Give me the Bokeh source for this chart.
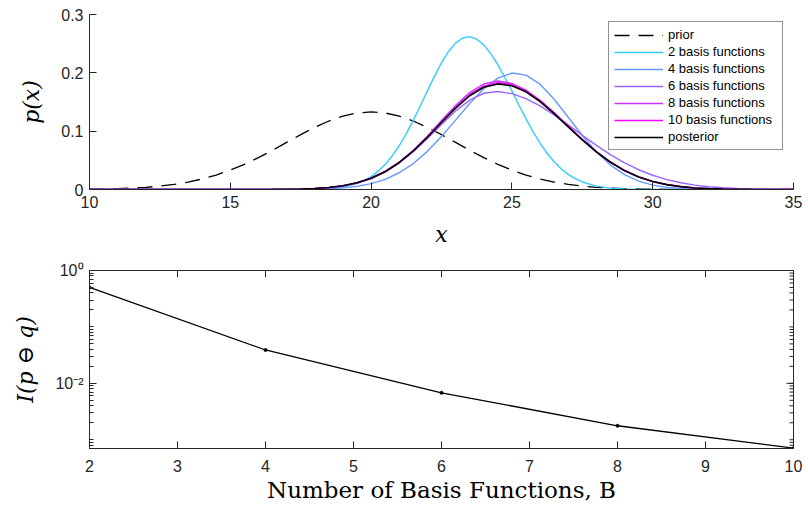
import math
import numpy as np
from bokeh.plotting import figure
from bokeh.layouts import column
from bokeh.models import Legend, LegendItem, FixedTicker
from bokeh.embed import file_html
from bokeh.resources import INLINE

# ---------------- data ----------------
x_grid = list(np.arange(10.0, 35.001, 0.5))
# the narrow 2-basis curve is read on a finer step around its peak
x_b2 = (list(np.arange(10.0, 19.501, 0.5)) + list(np.arange(19.75, 27.501, 0.25))
        + list(np.arange(28.0, 35.001, 0.5)))

prior = [0.0005, 0.0009, 0.0015, 0.0024, 0.0038, 0.0058, 0.0087, 0.0127, 0.0180, 0.0248,
         0.0332, 0.0432, 0.0547, 0.0673, 0.0807, 0.0940, 0.1065, 0.1174, 0.1258, 0.1312,
         0.1330, 0.1312, 0.1258, 0.1174, 0.1065, 0.0940, 0.0807, 0.0673, 0.0547, 0.0432,
         0.0332, 0.0248, 0.0180, 0.0127, 0.0087, 0.0058, 0.0038, 0.0024, 0.0015, 0.0009,
         0.0005, 0.0003, 0.0002, 0.0001, 0, 0, 0, 0, 0, 0, 0]

basis2 = ([0] * 14 + [0.0001, 0.0002, 0.0005, 0.0016, 0.0042, 0.0102]
          + [0.0152, 0.0220, 0.0311, 0.0428, 0.0575, 0.0750, 0.0957, 0.119, 0.1436, 0.169,
             0.194, 0.217, 0.2366, 0.251, 0.2598, 0.262, 0.2577, 0.248, 0.2329, 0.214,
             0.192, 0.169, 0.1445, 0.121, 0.0992, 0.0794, 0.0621, 0.0475, 0.0355, 0.0259,
             0.0185, 0.0129]
          + [0.0058, 0.0024, 0.0009, 0.0003, 0.0001] + [0] * 10)

basis4 = [0] * 14 + [0.0001, 0.0003, 0.0006, 0.0013, 0.0028, 0.0054, 0.0100, 0.0174, 0.0287, 0.0445,
                     0.0654, 0.0908, 0.119, 0.1474, 0.1726, 0.191, 0.1996, 0.196, 0.1805, 0.1548,
                     0.1239, 0.0925, 0.0644, 0.0419, 0.0254, 0.0144, 0.0076, 0.0037, 0.0017, 0.0007,
                     0.0003, 0.0001] + [0] * 5

basis6 = [0] * 13 + [0.0001, 0.0003, 0.0008, 0.0016, 0.0032, 0.0062, 0.0110, 0.0187, 0.0299, 0.0453,
                     0.0648, 0.0874, 0.1116, 0.1345, 0.1532, 0.165, 0.168, 0.1643, 0.1559, 0.1435,
                     0.1280, 0.1108, 0.0929, 0.0756, 0.0597, 0.0457, 0.0339, 0.0244, 0.0170, 0.0115,
                     0.0075, 0.0048, 0.0030, 0.0018, 0.0010, 0.0006, 0.0003, 0.0002]

basis8 = [0] * 13 + [0.0001, 0.0003, 0.0007, 0.0015, 0.0031, 0.0060, 0.0109, 0.0187, 0.0303, 0.0464,
                     0.0670, 0.0915, 0.1182, 0.1441, 0.1661, 0.1808, 0.186, 0.182, 0.1705, 0.1530,
                     0.1314, 0.1081, 0.0852, 0.0642, 0.0464, 0.0321, 0.0212, 0.0135, 0.0082, 0.0048,
                     0.0026, 0.0014, 0.0007, 0.0004, 0.0002, 0.0001, 0, 0]

basis10 = [0] * 12 + [0.0001, 0.0002, 0.0004, 0.0008, 0.0017, 0.0035, 0.0066, 0.0116, 0.0195, 0.0310,
                      0.0468, 0.0669, 0.0906, 0.1162, 0.1410, 0.1625, 0.1771, 0.183, 0.1799, 0.1692,
                      0.1525, 0.1315, 0.1087, 0.0860, 0.0651, 0.0472, 0.0328, 0.0218, 0.0139, 0.0085,
                      0.0050, 0.0027, 0.0015, 0.0008, 0.0004, 0.0002, 0.0001, 0, 0]

posterior = [0] * 12 + [0.0001, 0.0002, 0.0004, 0.0008, 0.0017, 0.0035, 0.0065, 0.0115, 0.0193, 0.0307,
                        0.0463, 0.0662, 0.0896, 0.1149, 0.1395, 0.1607, 0.1752, 0.181, 0.1779, 0.1674,
                        0.1508, 0.1301, 0.1075, 0.0851, 0.0644, 0.0467, 0.0324, 0.0216, 0.0137, 0.0084,
                        0.0049, 0.0027, 0.0015, 0.0008, 0.0004, 0.0002, 0.0001, 0, 0]

series_labels = ["prior", "2 basis functions", "4 basis functions", "6 basis functions",
                 "8 basis functions", "10 basis functions", "posterior"]
series_colors = ["black", "#33CCFF", "#6699FF", "#9966FF", "#CC33FF", "#FF00FF", "black"]

top_x_ticks = [10, 15, 20, 25, 30, 35]
top_y_ticks = [0, 0.1, 0.2, 0.3]
top_y_labels = ["0", "0.1", "0.2", "0.3"]

num_basis = [2, 4, 6, 8, 10]
info_loss = [0.50, 0.039, 0.0068, 0.00177, 0.00071]
bot_x_ticks = [2, 3, 4, 5, 6, 7, 8, 9, 10]
bot_y_ticks = [0.01, 1]
bot_y_labels = ["10\u207b\u00b2", "10\u2070"]

# ---------------- styling helpers ----------------
AX = "#262626"
TICK_FONT = "Liberation Sans"
SERIF = "DejaVu Serif"


def style_axis(ax):
    ax.axis_line_color = AX
    ax.axis_line_width = 1
    ax.major_tick_line_color = AX
    ax.minor_tick_line_color = AX
    ax.major_tick_in = 7
    ax.major_tick_out = 0
    ax.minor_tick_in = 4
    ax.minor_tick_out = 0
    ax.major_label_text_font = TICK_FONT
    ax.major_label_text_font_size = "16px"
    ax.major_label_text_color = AX
    ax.axis_label_text_font = SERIF
    ax.axis_label_text_font_size = "22px"
    ax.axis_label_text_color = "black"


# ---------------- top panel ----------------
p1 = figure(width=808, height=255, x_range=(10, 35), y_range=(0, 0.3),
            output_backend="svg", toolbar_location=None,
            min_border_left=88, min_border_right=15, min_border_top=14, min_border_bottom=66)
p1.outline_line_color = None
p1.grid.visible = False

all_series = [prior, basis2, basis4, basis6, basis8, basis10, posterior]
all_x = [x_grid, x_b2, x_grid, x_grid, x_grid, x_grid, x_grid]
renderers = []
for i, (xs, ys, col) in enumerate(zip(all_x, all_series, series_colors)):
    if i == 0:
        r = p1.line(xs, ys, line_color=col, line_width=1.3, line_dash="15 9")
    elif i == len(all_series) - 1:
        r = p1.line(xs, ys, line_color=col, line_width=1.6)
    else:
        r = p1.line(xs, ys, line_color=col, line_width=1.4)
    renderers.append(r)

legend = Legend(items=[LegendItem(label=lab, renderers=[r]) for lab, r in zip(series_labels, renderers)],
                location=(519, 39))
legend.label_text_font = TICK_FONT
legend.label_text_font_size = "13px"
legend.label_text_color = "black"
legend.label_height = 14
legend.glyph_height = 14
legend.glyph_width = 49
legend.spacing = 2
legend.padding = 5
legend.margin = 0
legend.label_standoff = 5
legend.label_width = 109
legend.border_line_color = AX
legend.border_line_width = 1
legend.background_fill_color = "white"
legend.background_fill_alpha = 1
p1.add_layout(legend)

p1.xaxis.ticker = FixedTicker(ticks=top_x_ticks)
p1.yaxis.ticker = FixedTicker(ticks=top_y_ticks)
p1.yaxis.major_label_overrides = {t: l for t, l in zip(top_y_ticks, top_y_labels)}
p1.xaxis.axis_label = "x"
p1.yaxis.axis_label = "p(x)"
for ax in p1.xaxis + p1.yaxis:
    style_axis(ax)
    ax.axis_label_text_font_style = "italic"
p1.xaxis.major_label_standoff = 6
p1.xaxis.axis_label_standoff = 11
p1.yaxis.major_label_standoff = 6
p1.yaxis.axis_label_standoff = 14

# ---------------- bottom panel ----------------
minor_log = [k * 10.0 ** e for e in range(-4, 1) for k in range(1, 10)]

p2 = figure(width=808, height=251, x_range=(2, 10), y_range=(7e-4, 1), y_axis_type="log",
            output_backend="svg", toolbar_location=None,
            min_border_left=89, min_border_right=7, min_border_top=15, min_border_bottom=58)
p2.outline_line_color = AX
p2.outline_line_width = 1
p2.grid.visible = False

p2.line(num_basis, info_loss, line_color="black", line_width=1.3)
p2.scatter(num_basis, info_loss, size=3, color="black")

# mirrored inward ticks on the top and right edges of the box (half of each dash is clipped)
p2.scatter(bot_x_ticks, [1] * len(bot_x_ticks), marker="dash", angle=math.pi / 2,
           size=14, line_color=AX, line_width=1)
p2.scatter([10] * len(bot_y_ticks), bot_y_ticks, marker="dash", size=14, line_color=AX, line_width=1)
minor_vis = [v for v in minor_log if 7e-4 <= v <= 1]
p2.scatter([10] * len(minor_vis), minor_vis, marker="dash", size=8, line_color=AX, line_width=1)

p2.xaxis.ticker = FixedTicker(ticks=bot_x_ticks)
p2.yaxis.ticker = FixedTicker(ticks=bot_y_ticks, minor_ticks=minor_log)
p2.yaxis.major_label_overrides = {t: l for t, l in zip(bot_y_ticks, bot_y_labels)}
p2.xaxis.axis_label = "Number of Basis Functions, B"
p2.yaxis.axis_label = "I(p \u2296 q)"
for ax in p2.xaxis + p2.yaxis:
    style_axis(ax)
p2.xaxis.axis_label_text_font_style = "normal"
p2.xaxis.axis_label_text_font_size = "23px"
p2.yaxis.axis_label_text_font_style = "italic"
p2.xaxis.major_label_standoff = 11
p2.xaxis.axis_label_standoff = 2
p2.yaxis.major_label_standoff = 6
p2.yaxis.axis_label_standoff = 14

layout = column(p1, p2)
open("out.html", "w").write(file_html(layout, INLINE))
